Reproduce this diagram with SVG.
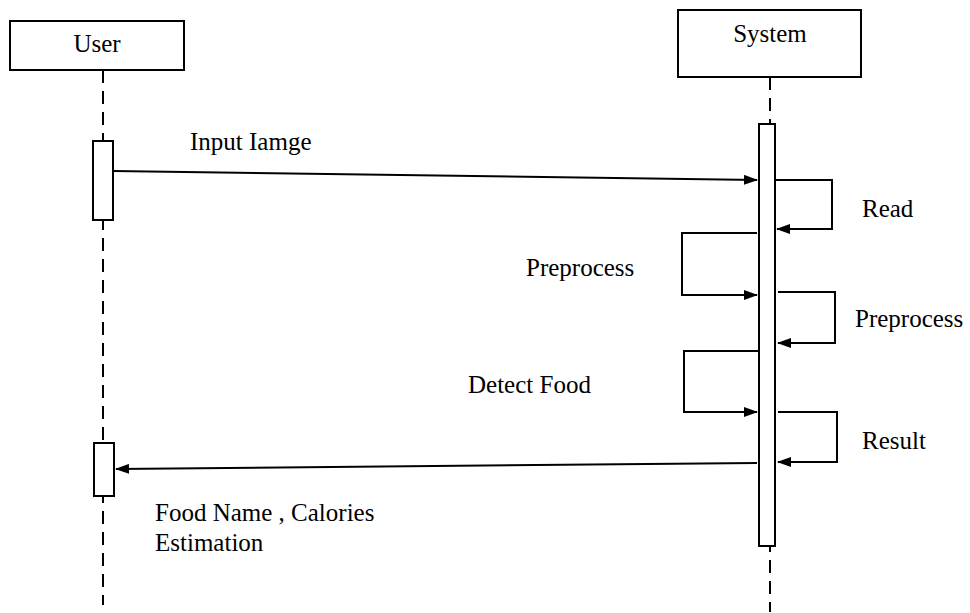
<svg xmlns="http://www.w3.org/2000/svg" width="970" height="613" viewBox="0 0 970 613">
<style>
.box{fill:#fff;stroke:#000;stroke-width:2}
.life{stroke:#000;stroke-width:2;stroke-dasharray:13 8;fill:none}
.act{fill:#fff;stroke:#000;stroke-width:2}
.msg{stroke:#000;stroke-width:2;fill:none;marker-end:url(#ah)}
.t{font-family:'Liberation Serif', 'DejaVu Serif', serif;font-size:25px;fill:#000}
</style>
<defs>
<marker id="ah" markerWidth="14" markerHeight="10" refX="13" refY="5" orient="auto" markerUnits="userSpaceOnUse">
<path d="M0,0 L14,5 L0,10 Z" fill="#000"/>
</marker>
</defs>
<rect width="970" height="613" fill="#fff"/>
<g id="user">
<line class="life" x1="103" y1="70" x2="103" y2="605"/>
<rect class="box" x="10" y="21" width="174" height="49"/>
<text class="t" x="97" y="52" text-anchor="middle" font-family="Liberation Serif, serif">User</text>
<rect class="act" x="93" y="141" width="20" height="79"/>
<rect class="act" x="94" y="443" width="20" height="53"/>
</g>
<g id="system">
<line class="life" x1="770" y1="77" x2="770" y2="612"/>
<rect class="box" x="678" y="10" width="183" height="67"/>
<text class="t" x="770" y="42" text-anchor="middle" font-family="Liberation Serif, serif">System</text>
<rect class="act" x="759" y="124" width="16" height="422"/>
</g>
<g id="connectors">
<line class="msg" x1="113" y1="171" x2="757" y2="180"/>
<polyline class="msg" points="775,180 832,180 832,229 777,229"/>
<polyline class="msg" points="757,233 682,233 682,295 757,295"/>
<polyline class="msg" points="778,292 835,292 835,343 778,343"/>
<polyline class="msg" points="758,351 684,351 684,412 757,412"/>
<polyline class="msg" points="778,412 837,412 837,462 778,462"/>
<line class="msg" x1="757" y1="463" x2="116" y2="469"/>
</g>
<g id="labels" font-family="Liberation Serif, serif">
<text class="t" x="190" y="150">Input Iamge</text>
<text class="t" x="862" y="217">Read</text>
<text class="t" x="526" y="276">Preprocess</text>
<text class="t" x="855" y="327">Preprocess</text>
<text class="t" x="468" y="393">Detect Food</text>
<text class="t" x="862" y="449">Result</text>
<text class="t" x="155" y="521">Food Name , Calories</text>
<text class="t" x="155" y="551">Estimation</text>
</g>
</svg>
